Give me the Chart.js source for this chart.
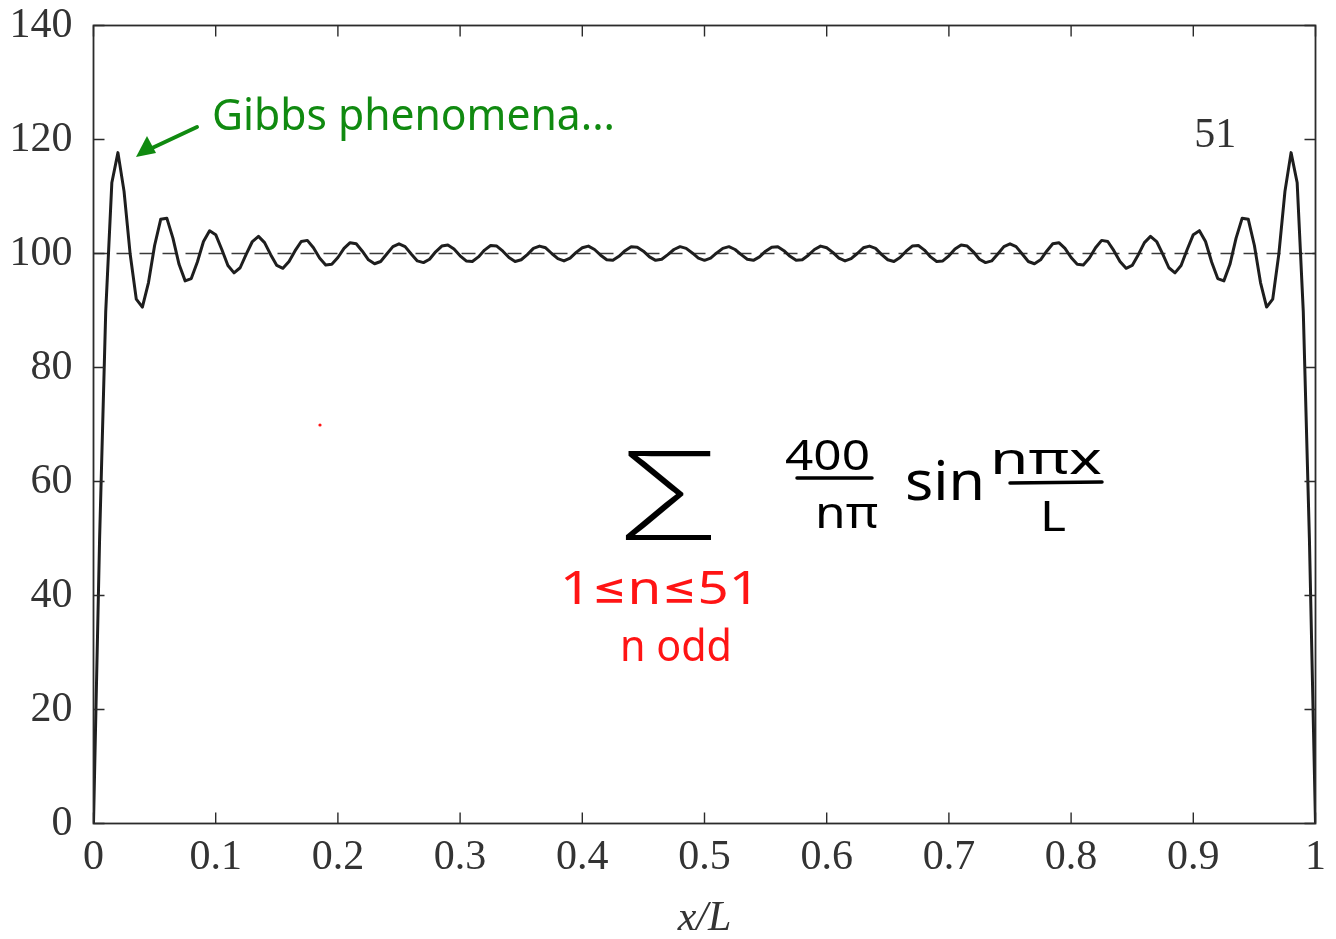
<!DOCTYPE html>
<html><head><meta charset="utf-8">
<script src="https://cdn.jsdelivr.net/npm/chart.js@4.4.0/dist/chart.umd.min.js"></script>
<style>html,body{margin:0;padding:0;background:#fff;}canvas{display:block;}</style>
</head><body>
<canvas id="c" width="1336" height="939"></canvas>
<script>
// x/L sample positions
const xPositions = [
0,0.005,0.01,0.015,0.02,0.025,0.03,0.035,0.04,0.045,
0.05,0.055,0.06,0.065,0.07,0.075,0.08,0.085,0.09,0.095,
0.1,0.105,0.11,0.115,0.12,0.125,0.13,0.135,0.14,0.145,
0.15,0.155,0.16,0.165,0.17,0.175,0.18,0.185,0.19,0.195,
0.2,0.205,0.21,0.215,0.22,0.225,0.23,0.235,0.24,0.245,
0.25,0.255,0.26,0.265,0.27,0.275,0.28,0.285,0.29,0.295,
0.3,0.305,0.31,0.315,0.32,0.325,0.33,0.335,0.34,0.345,
0.35,0.355,0.36,0.365,0.37,0.375,0.38,0.385,0.39,0.395,
0.4,0.405,0.41,0.415,0.42,0.425,0.43,0.435,0.44,0.445,
0.45,0.455,0.46,0.465,0.47,0.475,0.48,0.485,0.49,0.495,
0.5,0.505,0.51,0.515,0.52,0.525,0.53,0.535,0.54,0.545,
0.55,0.555,0.56,0.565,0.57,0.575,0.58,0.585,0.59,0.595,
0.6,0.605,0.61,0.615,0.62,0.625,0.63,0.635,0.64,0.645,
0.65,0.655,0.66,0.665,0.67,0.675,0.68,0.685,0.69,0.695,
0.7,0.705,0.71,0.715,0.72,0.725,0.73,0.735,0.74,0.745,
0.75,0.755,0.76,0.765,0.77,0.775,0.78,0.785,0.79,0.795,
0.8,0.805,0.81,0.815,0.82,0.825,0.83,0.835,0.84,0.845,
0.85,0.855,0.86,0.865,0.87,0.875,0.88,0.885,0.89,0.895,
0.9,0.905,0.91,0.915,0.92,0.925,0.93,0.935,0.94,0.945,
0.95,0.955,0.96,0.965,0.97,0.975,0.98,0.985,0.99,0.995,
1];

// partial sum (n odd, 1..51)
const seriesValues = [
0,50.1,89.8,112.4,117.7,110.9,99.9,92.0,90.6,94.9,
101.4,106.0,106.2,102.7,98.1,95.2,95.6,98.5,102.1,104.0,
103.3,100.7,97.9,96.6,97.5,99.9,102.1,103.0,101.9,99.8,
97.9,97.4,98.6,100.5,102.1,102.3,101.0,99.2,98.0,98.1,
99.3,100.9,101.9,101.7,100.4,98.9,98.2,98.6,99.9,101.2,
101.7,101.2,99.9,98.7,98.4,99.0,100.3,101.3,101.5,100.8,
99.6,98.7,98.6,99.4,100.6,101.4,101.3,100.4,99.3,98.6,
98.9,99.8,100.9,101.3,101.0,100.0,99.1,98.7,99.2,100.2,
101.0,101.3,100.7,99.7,98.9,98.8,99.5,100.5,101.2,101.1,
100.4,99.4,98.8,99.0,99.8,100.7,101.2,100.9,100.1,99.2,
98.8,
99.2,100.1,100.9,101.2,100.7,99.8,99.0,98.8,99.4,100.4,
101.1,101.2,100.5,99.5,98.8,98.9,99.7,100.7,101.3,101.0,
100.2,99.2,98.7,99.1,100.0,101.0,101.3,100.9,99.8,98.9,
98.6,99.3,100.4,101.3,101.4,100.6,99.4,98.6,98.7,99.6,
100.8,101.5,101.3,100.3,99.0,98.4,98.7,99.9,101.2,101.7,
101.2,99.9,98.6,98.2,98.9,100.4,101.7,101.9,100.9,99.3,
98.1,98.0,99.2,101.0,102.3,102.1,100.5,98.6,97.4,97.9,
99.8,101.9,103.0,102.1,99.9,97.5,96.6,97.9,100.7,103.3,
104.0,102.1,98.5,95.6,95.2,98.1,102.7,106.2,106.0,101.4,
94.9,90.6,92.0,99.9,110.9,117.7,112.4,89.8,50.1,0];

const referenceX = [0, 1];
const referenceY = [100, 100];

const xTickValues = [0,0.1,0.2,0.3,0.4,0.5,0.6,0.7,0.8,0.9,1];
const xTickLabels = ['0','0.1','0.2','0.3','0.4','0.5','0.6','0.7','0.8','0.9','1'];
const yTickValues = [0,20,40,60,80,100,120,140];
const yTickLabels = ['0','20','40','60','80','100','120','140'];
const termLabel = '51';

const SERIF = '"Liberation Serif", "DejaVu Serif", serif';
const AXIS_COLOR = '#2b2b2b';

const framePlugin = {
  id: 'frame',
  afterDatasetsDraw(chart) {
    const {ctx, chartArea: a, scales: {x, y}} = chart;
    ctx.save();
    ctx.strokeStyle = AXIS_COLOR;
    ctx.lineWidth = 1.8;
    ctx.strokeRect(a.left, a.top, a.right - a.left, a.bottom - a.top);
    ctx.lineWidth = 1.4;
    const L = 11;
    ctx.beginPath();
    xTickValues.forEach(v => {
      const px = x.getPixelForValue(v);
      ctx.moveTo(px, a.bottom); ctx.lineTo(px, a.bottom - L);
      ctx.moveTo(px, a.top); ctx.lineTo(px, a.top + L);
    });
    yTickValues.forEach(v => {
      const py = y.getPixelForValue(v);
      ctx.moveTo(a.left, py); ctx.lineTo(a.left + L, py);
      ctx.moveTo(a.right, py); ctx.lineTo(a.right - L, py);
    });
    ctx.stroke();
    // "51" label
    ctx.fillStyle = '#333';
    ctx.font = '42px ' + SERIF;
    ctx.textAlign = 'center';
    ctx.textBaseline = 'alphabetic';
    ctx.fillText(termLabel, x.getPixelForValue(0.918), y.getPixelForValue(118.6));
    ctx.restore();
  }
};

function fitText(ctx, text, x, baseline, font, color, width) {
  ctx.save();
  ctx.font = font; ctx.fillStyle = color;
  ctx.textAlign = 'left'; ctx.textBaseline = 'alphabetic';
  const w = ctx.measureText(text).width;
  ctx.translate(x, baseline);
  ctx.scale(width / w, 1);
  ctx.fillText(text, 0, 0);
  ctx.restore();
}

const HAND = '"Noto Sans", Inter, sans-serif';
const inkPlugin = {
  id: 'ink',
  afterDraw(chart) {
    const ctx = chart.ctx;
    const green = '#108a10', red = '#ff1414', black = '#000';
    // green note + arrow
    fitText(ctx, 'Gibbs phenomena...', 212, 130, '44px ' + HAND, green, 403);
    ctx.save();
    ctx.strokeStyle = green; ctx.fillStyle = green; ctx.lineWidth = 4; ctx.lineCap = 'round';
    ctx.beginPath(); ctx.moveTo(197, 127); ctx.lineTo(150, 149); ctx.stroke();
    ctx.beginPath(); ctx.moveTo(136, 157); ctx.lineTo(147, 136); ctx.lineTo(156, 153); ctx.closePath(); ctx.fill();
    ctx.restore();
    // formula
    fitText(ctx, '\u03A3', 615, 540, '200 122px Inter, ' + HAND, black, 107);
    fitText(ctx, '400', 785, 470, '42px ' + HAND, black, 85);
    fitText(ctx, 'n\u03C0', 815, 528, '44px ' + HAND, black, 63);
    fitText(ctx, 'sin', 905, 500, '54px ' + HAND, black, 80);
    fitText(ctx, 'n\u03C0x', 990, 474, '44px ' + HAND, black, 112);
    fitText(ctx, 'L', 1040, 531, '42px ' + HAND, black, 26);
    ctx.save();
    ctx.strokeStyle = black; ctx.lineWidth = 3.5; ctx.lineCap = 'round';
    ctx.beginPath(); ctx.moveTo(797, 478); ctx.lineTo(872, 478); ctx.stroke();
    ctx.beginPath(); ctx.moveTo(1010, 483); ctx.lineTo(1102, 482); ctx.stroke();
    ctx.restore();
    // red limits
    fitText(ctx, '1\u2264n\u226451', 560, 604, '46px ' + HAND, red, 200);
    fitText(ctx, 'n odd', 620, 661, '44px ' + HAND, red, 112);
    ctx.save(); ctx.fillStyle = red; ctx.beginPath(); ctx.arc(320, 425, 1.6, 0, Math.PI * 2); ctx.fill(); ctx.restore();
  }
};

new Chart(document.getElementById('c').getContext('2d'), {
  type: 'line',
  data: {
    labels: xPositions,
    datasets: [
      { data: seriesValues, borderColor: '#1e1e1e', borderWidth: 3, borderJoinStyle: 'round', pointRadius: 0, tension: 0, fill: false, order: 1 },
      { data: referenceX.map((v, i) => ({x: v, y: referenceY[i]})), borderColor: '#3a3a3a', borderWidth: 1.3,
        borderDash: [14, 9], pointRadius: 0, fill: false, order: 2 }
    ]
  },
  options: {
    responsive: false, animation: false, devicePixelRatio: 1,
    layout: { padding: { top: 25.5, right: 20.5, left: 0, bottom: 0 } },
    plugins: { legend: { display: false }, tooltip: { enabled: false } },
    scales: {
      x: {
        type: 'linear', min: 0, max: 1,
        grid: { display: false, drawTicks: false }, border: { display: false },
        afterBuildTicks: s => { s.ticks = xTickValues.map(v => ({value: v})); },
        afterFit: s => { s.height = 115.5; s.paddingLeft = 0; s.paddingRight = 0; },
        ticks: { font: { family: SERIF, size: 42 }, color: '#333', padding: 9, maxRotation: 0, autoSkip: false,
                 callback: (v, i) => xTickLabels[i] },
        title: { display: true, text: 'x/L', font: { family: SERIF, size: 42, style: 'italic' }, color: '#333', padding: { top: 0, bottom: -5 } }
      },
      y: {
        min: 0, max: 140,
        grid: { display: false, drawTicks: false }, border: { display: false },
        afterBuildTicks: s => { s.ticks = yTickValues.map(v => ({value: v})); },
        afterFit: s => { s.width = 93.5; s.paddingTop = 0; s.paddingBottom = 0; },
        ticks: { font: { family: SERIF, size: 42 }, color: '#333', padding: 21, autoSkip: false,
                 callback: (v, i) => yTickLabels[i] }
      }
    }
  },
  plugins: [framePlugin, inkPlugin]
});
</script>
</body></html>
